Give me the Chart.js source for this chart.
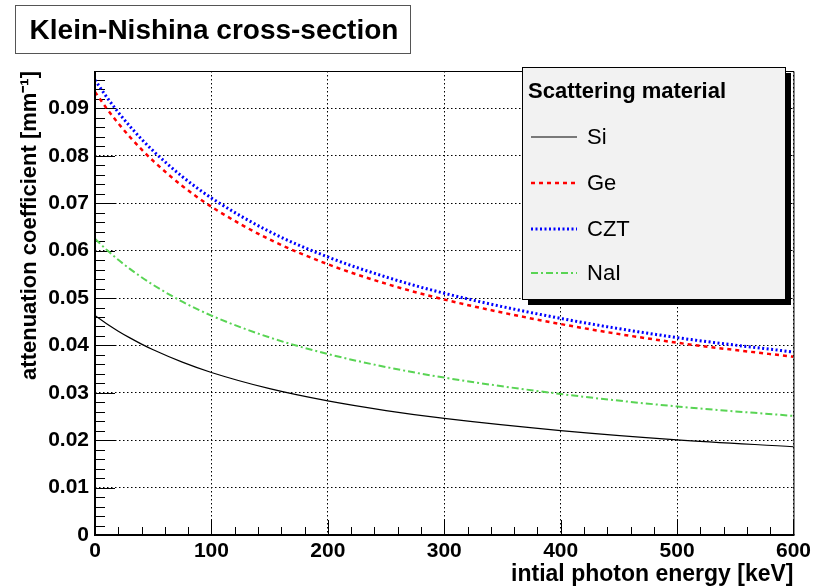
<!DOCTYPE html>
<html><head><meta charset="utf-8">
<script src="https://cdn.jsdelivr.net/npm/chart.js@4/dist/chart.umd.min.js"></script>
<style>html,body{margin:0;padding:0;background:#fff;}#wrap{width:815px;height:588px;}</style>
</head><body><div id="wrap"><canvas id="c" width="815" height="588"></canvas></div>
<script>
// ---- data ----
const energies = [0, 10, 20, 30, 40, 50, 75, 100, 150, 200, 250, 300, 400, 500, 600];
const si  = [0.04630, 0.04457, 0.04301, 0.04159, 0.04028, 0.03908, 0.03647, 0.03429, 0.03087, 0.02829, 0.02626, 0.02460, 0.02204, 0.02009, 0.01862];
const ge  = [0.09350, 0.09001, 0.08686, 0.08398, 0.08135, 0.07892, 0.07365, 0.06926, 0.06235, 0.05713, 0.05302, 0.04968, 0.04451, 0.04057, 0.03760];
const czt = [0.09600, 0.09242, 0.08918, 0.08623, 0.08352, 0.08103, 0.07562, 0.07111, 0.06401, 0.05866, 0.05444, 0.05100, 0.04570, 0.04165, 0.03860];
const nai = [0.06250, 0.06017, 0.05806, 0.05614, 0.05438, 0.05276, 0.04923, 0.04629, 0.04168, 0.03819, 0.03544, 0.03321, 0.02975, 0.02712, 0.02513];
const seriesNames = ['Si', 'Ge', 'CZT', 'NaI'];
const xTicks = [0, 100, 200, 300, 400, 500, 600];
const yTicks = [0, 0.01, 0.02, 0.03, 0.04, 0.05, 0.06, 0.07, 0.08, 0.09];
const chartTitle = 'Klein-Nishina cross-section';
const legendTitle = 'Scattering material';
const xTitle = 'intial photon energy [keV]';
const yTitle = 'attenuation coefficient [mm\u207B\u00B9]';

const FONT = 'Liberation Sans, Arial, Helvetica, sans-serif';
const toPts = arr => energies.map((e, i) => ({x: e, y: arr[i]}));

const styles = [
  {color: '#000000', width: 1.2, dash: []},
  {color: '#ff0000', width: 2.5, dash: [4, 4]},
  {color: '#0000ff', width: 3, dash: [2, 2.5]},
  {color: '#59d454', width: 2, dash: [7, 3, 2, 3]}
];
const seriesData = [si, ge, czt, nai];

const datasets = seriesNames.map((n, i) => ({
  label: n,
  data: toPts(seriesData[i]),
  borderColor: styles[i].color,
  borderWidth: styles[i].width,
  borderDash: styles[i].dash,
  pointRadius: 0,
  fill: false,
  cubicInterpolationMode: 'monotone'
}));

const decorPlugin = {
  id: 'decor',
  beforeDatasetsDraw(chart) {
    const {ctx, chartArea: a, scales: {x, y}} = chart;
    ctx.save();
    ctx.strokeStyle = '#000';
    ctx.lineWidth = 1;
    ctx.setLineDash([]);
    // y ticks (inside)
    for (let k = 0; k <= 48; k++) {
      const v = k * 0.002;
      if (v > y.max) break;
      const py = Math.round(y.getPixelForValue(v)) + 0.5;
      const len = (k % 5 === 0) ? 20 : 10;
      ctx.beginPath(); ctx.moveTo(a.left, py); ctx.lineTo(a.left + len, py); ctx.stroke();
    }
    // x ticks (inside)
    for (let k = 0; k <= 30; k++) {
      const v = k * 20;
      const px = Math.round(x.getPixelForValue(v)) + 0.5;
      const len = (k % 5 === 0) ? 15 : 8;
      ctx.beginPath(); ctx.moveTo(px, a.bottom); ctx.lineTo(px, a.bottom - len); ctx.stroke();
    }
    ctx.restore();
  },
  afterDatasetsDraw(chart) {
    const {ctx, chartArea: a} = chart;
    ctx.save();
    ctx.setLineDash([]);
    ctx.strokeStyle = '#000';
    // top & right frame
    ctx.lineWidth = 1;
    ctx.beginPath();
    ctx.moveTo(a.left, a.top + 0.5); ctx.lineTo(a.right + 0.5, a.top + 0.5); ctx.lineTo(a.right + 0.5, a.bottom);
    ctx.stroke();
    // left & bottom axes
    ctx.lineWidth = 2;
    ctx.beginPath();
    ctx.moveTo(a.left, a.top); ctx.lineTo(a.left, a.bottom); ctx.lineTo(a.right + 1, a.bottom);
    ctx.stroke();

    // chart title box
    ctx.fillStyle = '#fff';
    ctx.fillRect(15, 5, 396, 49);
    ctx.strokeStyle = '#555';
    ctx.lineWidth = 1;
    ctx.strokeRect(15.5, 5.5, 395, 48);
    ctx.fillStyle = '#000';
    ctx.font = 'bold 28px ' + FONT;
    ctx.textAlign = 'center';
    ctx.textBaseline = 'middle';
    ctx.fillText(chartTitle, 214, 31);

    // legend box with shadow
    const lx = 522, ly = 67, lw = 263, lh = 232;
    ctx.fillStyle = '#000';
    ctx.fillRect(lx + 6, ly + 6, lw, lh);
    ctx.fillStyle = '#f2f2f2';
    ctx.fillRect(lx, ly, lw, lh);
    ctx.strokeStyle = '#000';
    ctx.strokeRect(lx + 0.5, ly + 0.5, lw, lh);
    ctx.fillStyle = '#000';
    ctx.textAlign = 'left';
    ctx.textBaseline = 'middle';
    ctx.font = 'bold 22px ' + FONT;
    ctx.fillText(legendTitle, 528, 92);
    ctx.font = '22px ' + FONT;
    const rowsY = [137, 183, 229, 273];
    chart.data.datasets.forEach((ds, i) => {
      const yy = rowsY[i];
      ctx.strokeStyle = ds.borderColor;
      ctx.lineWidth = ds.borderWidth;
      ctx.setLineDash(ds.borderDash);
      ctx.beginPath(); ctx.moveTo(531, yy); ctx.lineTo(577, yy); ctx.stroke();
      ctx.setLineDash([]);
      ctx.fillStyle = '#000';
      ctx.fillText(ds.label, 587, yy + 1);
    });
    ctx.restore();
  }
};

new Chart(document.getElementById('c'), {
  type: 'line',
  data: {datasets},
  options: {
    responsive: false,
    animation: false,
    devicePixelRatio: 1,
    layout: {padding: {top: 71, right: 20, left: 0, bottom: 0}},
    plugins: {legend: {display: false}, tooltip: {enabled: false}, title: {display: false}},
    scales: {
      x: {
        type: 'linear', min: 0, max: 600,
        afterBuildTicks: s => { s.ticks = xTicks.map(v => ({value: v})); },
        afterFit: s => { s.height = 53; },
        grid: {color: '#000', lineWidth: 1, drawTicks: false},
        border: {display: false, dash: [1.5, 2.5]},
        ticks: {color: '#000', padding: 4, maxRotation: 0, font: {family: FONT, size: 21, weight: 'bold'},
                callback: v => String(v)},
        title: {display: true, text: xTitle, align: 'end', color: '#000',
                font: {family: FONT, size: 23, weight: 'bold'}, padding: {top: 0, bottom: 0}}
      },
      y: {
        type: 'linear', min: 0, max: 0.0979,
        afterBuildTicks: s => { s.ticks = yTicks.map(v => ({value: v})); },
        afterFit: s => { s.width = 95; },
        grid: {color: '#000', lineWidth: 1, drawTicks: false},
        border: {display: false, dash: [1.5, 2.5]},
        ticks: {color: '#000', padding: 6, font: {family: FONT, size: 21, weight: 'bold'},
                callback: v => (v === 0 ? '0' : v.toFixed(2))},
        title: {display: true, text: yTitle, align: 'end', color: '#000',
                font: {family: FONT, size: 22, weight: 'bold'}, padding: {top: 17, bottom: 0}}
      }
    }
  },
  plugins: [decorPlugin]
});
</script></body></html>
